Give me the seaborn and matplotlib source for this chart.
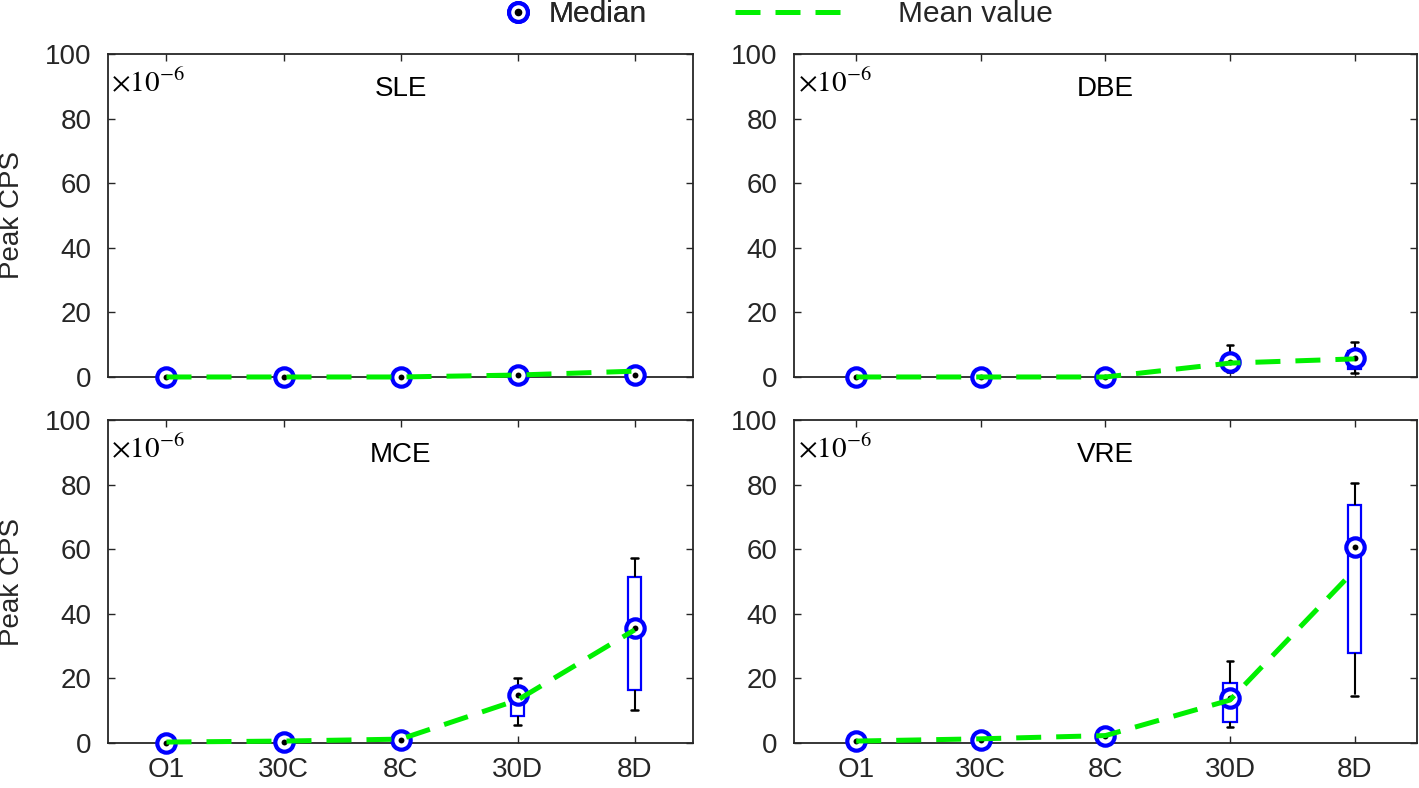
import numpy as np
import pandas as pd
import matplotlib
import matplotlib.pyplot as plt
import seaborn as sns
from matplotlib.lines import Line2D

matplotlib.use("Agg")

# groups on the x axis
cats = ["O1", "30C", "8C", "30D", "8D"]
panels = ["SLE", "DBE", "MCE", "VRE"]

# values in units of 1e-6
sle_median = [0, 0, 0, 0.5, 0.7]
sle_mean = [0, 0, 0, 0.6, 1.8]
sle_q1 = [0, 0, 0, 0.3, 0.4]
sle_q3 = [0, 0, 0, 0.8, 1.2]
sle_lo = [0, 0, 0, 0.1, 0.2]
sle_hi = [0, 0, 0, 1.2, 2.0]

dbe_median = [0, 0, 0, 4.5, 6.0]
dbe_mean = [0, 0, 0, 4.3, 5.6]
dbe_q1 = [0, 0, 0, 3.5, 2.5]
dbe_q3 = [0, 0, 0, 6.5, 8.0]
dbe_lo = [0, 0, 0, 1.5, 1.2]
dbe_hi = [0, 0, 0, 9.9, 10.8]

mce_median = [0, 0.3, 1.0, 14.8, 35.6]
mce_mean = [0.3, 0.6, 1.2, 13.3, 35.0]
mce_q1 = [0, 0.2, 0.8, 8.4, 16.4]
mce_q3 = [0.2, 0.5, 1.3, 17.0, 51.4]
mce_lo = [0, 0.1, 0.5, 5.6, 10.2]
mce_hi = [0.3, 0.7, 1.6, 20.0, 57.3]

vre_median = [0.5, 1.0, 2.2, 13.9, 60.7]
vre_mean = [0.6, 1.3, 2.3, 13.3, 53.5]
vre_q1 = [0.3, 0.8, 1.8, 6.5, 27.9]
vre_q3 = [0.8, 1.3, 2.7, 18.6, 73.7]
vre_lo = [0.1, 0.5, 1.2, 5.0, 14.5]
vre_hi = [1.0, 1.8, 3.2, 25.4, 80.5]

stats = {
    "SLE": (sle_median, sle_mean, sle_q1, sle_q3, sle_lo, sle_hi),
    "DBE": (dbe_median, dbe_mean, dbe_q1, dbe_q3, dbe_lo, dbe_hi),
    "MCE": (mce_median, mce_mean, mce_q1, mce_q3, mce_lo, mce_hi),
    "VRE": (vre_median, vre_mean, vre_q1, vre_q3, vre_lo, vre_hi),
}

sns.set_style("ticks")
plt.rcParams["font.family"] = ["Liberation Sans", "DejaVu Sans"]
plt.rcParams["mathtext.fontset"] = "stix"

BLUE = "#0000ff"
GREEN = "#00f000"
DARK = "#262626"

fig = plt.figure(figsize=(14.19, 7.88), dpi=100)

# axes rectangles in figure fraction
rects = {
    "SLE": [0.0761, 0.5216, 0.4123, 0.4099],
    "DBE": [0.5595, 0.5216, 0.4390, 0.4099],
    "MCE": [0.0761, 0.0571, 0.4123, 0.4099],
    "VRE": [0.5595, 0.0571, 0.4390, 0.4099],
}

for name in panels:
    ax = fig.add_axes(rects[name])
    med, mean, q1, q3, lo, hi = stats[name]

    # five numbers per group -> box exactly from q1 to q3, whiskers to lo/hi
    rows = []
    for i, c in enumerate(cats):
        for v in [lo[i], q1[i], med[i], q3[i], hi[i]]:
            rows.append({"group": c, "value": v})
    df = pd.DataFrame(rows)

    sns.boxplot(
        data=df, x="group", y="value", order=cats, ax=ax,
        whis=np.inf, width=0.11, showfliers=False,
        boxprops=dict(edgecolor=BLUE, facecolor="white", linewidth=1.6),
        whiskerprops=dict(color="black", linewidth=1.5, linestyle=(0, (20, 9))),
        capprops=dict(color="black", linewidth=1.8),
        medianprops=dict(visible=False),
        linecolor=BLUE,
    )

    x = np.arange(len(cats))
    sns.scatterplot(x=x, y=med, ax=ax, marker="o", s=175, facecolor="white",
                    edgecolor=BLUE, linewidth=3.0, zorder=4, clip_on=False)
    sns.scatterplot(x=x, y=med, ax=ax, marker="o", s=18, color="black",
                    linewidth=0, zorder=5, clip_on=False)
    sns.lineplot(x=x, y=mean, ax=ax, color=GREEN, linewidth=3.6,
                 linestyle=(0, (5, 3)), zorder=6, clip_on=False)

    ax.set_xlim(-0.5, 4.5)
    ax.set_ylim(0, 100)
    ax.set_yticks([0, 20, 40, 60, 80, 100])
    ax.set_xlabel("")
    ax.set_ylabel("")
    ax.tick_params(direction="in", top=True, right=True, length=5, width=1,
                   labelsize=20, colors=DARK, pad=12)
    for sp in ax.spines.values():
        sp.set_color(DARK)
        sp.set_linewidth(1.3)
        sp.set_zorder(3)

    if name in ["SLE", "DBE"]:
        ax.tick_params(labelbottom=False)
    else:
        ax.set_xticks(x)
        ax.set_xticklabels(cats)
        ax.tick_params(axis="x", pad=10)
    if name in ["SLE", "MCE"]:
        ax.set_ylabel("Peak CPS", fontsize=20, color=DARK, labelpad=14)

    ax.text(0.5, 0.892, name, transform=ax.transAxes, ha="center", va="center",
            fontsize=20, color="black")
    ax.text(0.006, 0.955, r"$\times10^{-6}$", transform=ax.transAxes,
            ha="left", va="top", fontsize=21, color="black")

# legend at top, two separate entries
h_med = (
    Line2D([], [], linestyle="none", marker="o", markersize=13.5,
           markerfacecolor="white", markeredgecolor=BLUE, markeredgewidth=3.0),
    Line2D([], [], linestyle="none", marker="o", markersize=4.5, color="black"),
)
leg1 = fig.legend([h_med], ["Median"], loc="center left",
                  bbox_to_anchor=(0.3524, 0.982), frameon=False, fontsize=21.5,
                  handlelength=1.2, handletextpad=0.41, borderpad=0, borderaxespad=0)
h_mean = Line2D([], [], color=GREEN, linewidth=3.6, linestyle=(0, (5, 3)))
leg2 = fig.legend([h_mean], ["Mean value"], loc="center left",
                  bbox_to_anchor=(0.518, 0.982), frameon=False, fontsize=21.5,
                  handlelength=3.98, handletextpad=1.47, borderpad=0, borderaxespad=0)
fig.add_artist(leg1)

fig.savefig("out.png", dpi=100)
